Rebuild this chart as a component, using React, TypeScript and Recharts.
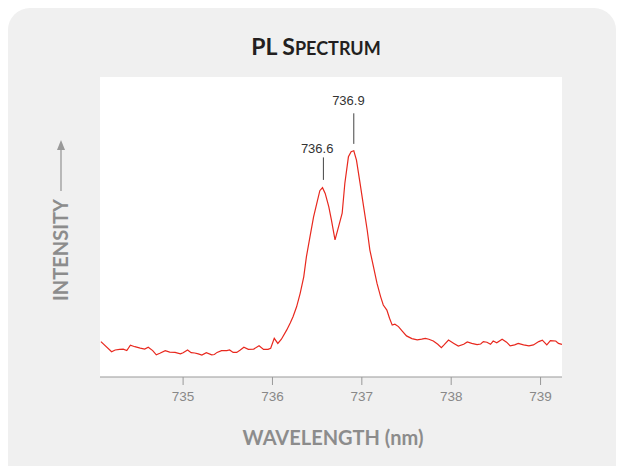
import React from 'react';
import { LineChart, Line, XAxis, YAxis, ReferenceLine, ReferenceDot } from 'recharts';

// wavelength (nm) of each sample
const wavelengths = [
  734.08, 734.2, 734.24, 734.29, 734.33, 734.37, 734.41, 734.46, 734.52, 734.57,
  734.61, 734.66, 734.7, 734.74, 734.8, 734.85, 734.91, 734.97, 735.0, 735.05,
  735.09, 735.13, 735.17, 735.21, 735.26, 735.32, 735.35, 735.38, 735.43, 735.49,
  735.52, 735.56, 735.6, 735.64, 735.68, 735.73, 735.79, 735.85, 735.9, 735.95,
  735.98, 736.02, 736.06, 736.1, 736.16, 736.2, 736.23, 736.27, 736.31, 736.35,
  736.38, 736.42, 736.46, 736.5, 736.53, 736.56, 736.59, 736.63, 736.66, 736.7,
  736.74, 736.78, 736.81, 736.85, 736.88, 736.91, 736.94, 736.98, 737.02, 737.06,
  737.09, 737.13, 737.17, 737.21, 737.24, 737.28, 737.31, 737.34, 737.37, 737.41,
  737.45, 737.5, 737.56, 737.62, 737.67, 737.71, 737.75, 737.8, 737.85, 737.89,
  737.92, 737.97, 738.03, 738.08, 738.14, 738.18, 738.23, 738.29, 738.33, 738.36,
  738.4, 738.44, 738.47, 738.51, 738.57, 738.62, 738.66, 738.71, 738.75, 738.81,
  738.87, 738.92, 738.98, 739.02, 739.07, 739.11, 739.17, 739.2, 739.24,
];

// intensity (arbitrary units, 0-100)
const intensities = [
  11.8, 8.4, 9.0, 9.2, 9.3, 8.8, 10.6, 10.1, 9.6, 9.3,
  9.9, 8.8, 7.4, 7.9, 8.8, 8.3, 8.2, 7.7, 8.1, 9.0,
  8.1, 8.0, 7.7, 7.3, 8.1, 7.4, 7.5, 8.2, 8.8, 8.8,
  9.0, 8.2, 8.2, 9.0, 9.9, 9.2, 9.3, 10.4, 9.2, 9.2,
  9.6, 12.9, 11.2, 12.6, 15.7, 18.1, 20.1, 23.4, 27.9, 33.4,
  40.1, 46.8, 53.4, 58.4, 62.1, 63.1, 61.2, 56.8, 52.3, 45.7,
  50.1, 54.6, 64.6, 73.4, 75.1, 75.4, 72.3, 64.6, 56.8, 49.0,
  42.3, 36.8, 31.2, 26.8, 24.0, 22.3, 19.6, 17.3, 17.6, 16.8,
  15.4, 13.7, 12.8, 12.4, 12.6, 12.9, 12.6, 12.0, 10.9, 9.8,
  10.7, 12.3, 11.2, 10.3, 10.9, 11.7, 11.2, 10.8, 11.0, 11.8,
  11.6, 10.9, 12.0, 11.4, 12.6, 11.6, 10.4, 10.7, 11.2, 10.7,
  10.4, 10.7, 11.8, 12.3, 10.7, 12.1, 12.0, 11.2, 10.9,
];

const xTicks = [735, 736, 737, 738, 739];

// peak annotations: label, marker x, marker y range, label position
const peakLabels = ['736.6', '736.9'];
const peakX = [736.57, 736.91];
const peakLineY = [
  [65.7, 73.2],
  [77.7, 87.9],
];
const peakTextX = [736.5, 736.85];
const peakTextY = [76.1, 92.2];

const data = wavelengths.map((wl, i) => ({ wl, y: intensities[i] }));

const labelFont = 'Lato, "Open Sans", sans-serif';

const App = () => {
  return (
    <div
      style={{
        position: 'fixed',
        left: 0,
        top: 0,
        width: 618,
        height: 466,
        overflow: 'hidden',
        background: '#fff',
      }}
    >
      <div
        style={{
          position: 'absolute',
          left: 8,
          top: 8,
          width: 608,
          height: 520,
          background: '#f0f0f0',
          borderRadius: 22,
        }}
      />
      <div
        style={{
          position: 'absolute',
          left: 100,
          top: 77,
          width: 462,
          height: 300,
          background: '#fff',
        }}
      />
      <div
        style={{
          position: 'absolute',
          left: 0,
          width: 632,
          top: 32,
          textAlign: 'center',
          fontFamily: labelFont,
          fontWeight: 700,
          fontSize: 23,
          color: '#231f20',
        }}
      >
        PL S<span style={{ fontSize: 18 }}>PECTRUM</span>
      </div>
      <div
        style={{
          position: 'absolute',
          left: 100,
          width: 466,
          top: 425,
          textAlign: 'center',
          fontFamily: labelFont,
          fontWeight: 700,
          fontSize: 20,
          color: '#8c8c8c',
        }}
      >
        WAVELENGTH (nm)
      </div>
      <div
        style={{
          position: 'absolute',
          left: 60,
          top: 250,
          transform: 'translate(-50%, -50%) rotate(-90deg)',
          fontFamily: labelFont,
          fontWeight: 700,
          fontSize: 20,
          color: '#8c8c8c',
          whiteSpace: 'nowrap',
        }}
      >
        INTENSITY
      </div>
      <svg style={{ position: 'absolute', left: 52, top: 138 }} width={18} height={56}>
        <line x1={9} y1={8} x2={9} y2={53} stroke="#999" strokeWidth={1.3} />
        <polygon points="9,2 5,12 13,12" fill="#999" />
      </svg>
      <div style={{ position: 'absolute', left: 0, top: 0 }}>
        <LineChart
          width={618}
          height={466}
          data={data}
          margin={{ top: 77, right: 56, bottom: 59, left: 100 }}
        >
          <XAxis
            dataKey="wl"
            type="number"
            domain={[734.07, 739.24]}
            ticks={xTicks}
            allowDataOverflow
            height={30}
            tickSize={8}
            tickMargin={6}
            axisLine={{ stroke: '#999' }}
            tickLine={{ stroke: '#999' }}
            tick={{ fill: '#888', fontSize: 13.5, fontFamily: '"Liberation Sans", Arial, sans-serif' }}
          />
          <YAxis
            type="number"
            domain={[0, 100]}
            width={0}
            tick={false}
            tickLine={false}
            axisLine={{ stroke: '#999' }}
          />
          <Line
            type="linear"
            dataKey="y"
            stroke="#e8281e"
            strokeWidth={1.2}
            dot={false}
            isAnimationActive={false}
          />
          {peakLabels.map((lab, i) => (
            <ReferenceLine
              key={'l' + lab}
              segment={[
                { x: peakX[i], y: peakLineY[i][0] },
                { x: peakX[i], y: peakLineY[i][1] },
              ]}
              stroke="#444"
              strokeWidth={1}
            />
          ))}
          {peakLabels.map((lab, i) => (
            <ReferenceDot
              key={'t' + lab}
              x={peakTextX[i]}
              y={peakTextY[i]}
              r={0}
              stroke="none"
              fill="none"
              label={{
                value: lab,
                position: 'center',
                fill: '#333',
                fontSize: 13,
                fontFamily: '"Liberation Sans", Arial, sans-serif',
              }}
            />
          ))}
        </LineChart>
      </div>
    </div>
  );
};

export default App;
